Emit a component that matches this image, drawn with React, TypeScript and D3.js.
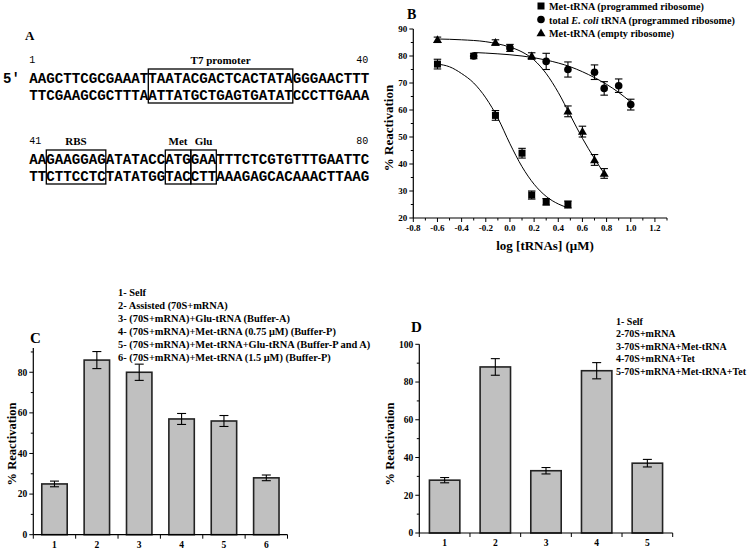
import React from "react";
import * as d3 from "d3";

// ---------- Panel A data ----------
const seqTop = [
  "AAGCTTCGCGAAATTAATACGACTCACTATAGGGAACTTT",
  "TTCGAAGCGCTTTAATTATGCTGAGTGATATCCCTTGAAA",
];
const seqBottom = [
  "AAGAAGGAGATATACCATGGAATTTCTCGTGTTTGAATTC",
  "TTCTTCCTCTATATGGTACCTTAAAGAGCACAAACTTAAG",
];
const boxesTop = [{ start: 14, end: 31, label: "T7 promoter" }];
const boxesBottom = [
  { start: 2, end: 9, label: "RBS" },
  { start: 16, end: 19, label: "Met" },
  { start: 19, end: 22, label: "Glu" },
];
const posLabelsTop = ["1", "40"];
const posLabelsBottom = ["41", "80"];

// ---------- Panel B data ----------
const metProgX = [-0.6, -0.12, 0.1, 0.18, 0.3, 0.48];
const metProgY = [77, 58, 44, 28.5, 26, 25];
const metProgE = [1.8, 1.8, 1.8, 1.5, 1.2, 1.3];
const totalX = [-0.3, 0.0, 0.3, 0.48, 0.7, 0.78, 0.9, 1.0];
const totalY = [80, 83, 78, 75, 74, 68, 69, 62];
const totalE = [1.0, 1.3, 3.0, 2.8, 2.7, 2.5, 2.5, 2.0];
const metEmptyX = [-0.6, -0.12, 0.18, 0.48, 0.6, 0.7, 0.78];
const metEmptyY = [86, 85, 80, 59.5, 52, 41.5, 36.5];
const metEmptyE = [1.0, 1.0, 1.2, 2.0, 2.0, 2.0, 1.8];
// fitted curves
const fitMetProgX = [-0.6, -0.5, -0.4, -0.3, -0.2, -0.1, 0, 0.1, 0.2, 0.3, 0.4, 0.48];
const fitMetProgY = [77, 76, 73.5, 70, 64.5, 57, 47.5, 39, 32.5, 28, 25.2, 23.8];
const fitTotalX = [-0.3, -0.1, 0.1, 0.3, 0.5, 0.7, 0.8, 0.9, 1.0];
const fitTotalY = [81.3, 80.8, 80, 78.5, 76, 72, 69.5, 66.5, 63];
const fitEmptyX = [-0.6, -0.4, -0.2, -0.1, 0, 0.1, 0.2, 0.3, 0.4, 0.5, 0.6, 0.7, 0.78];
const fitEmptyY = [86.3, 86, 85.3, 84.5, 83.3, 81.5, 78.5, 73.5, 66.5, 58, 49.5, 42, 36.5];
const xTicksB = [-0.8, -0.6, -0.4, -0.2, 0.0, 0.2, 0.4, 0.6, 0.8, 1.0, 1.2];
const yTicksB = [20, 30, 40, 50, 60, 70, 80, 90];
const legendB = [
  "Met-tRNA (programmed ribosome)",
  "total E. coli tRNA (programmed ribosome)",
  "Met-tRNA (empty ribosome)",
];

// ---------- Panel C data ----------
const catsC = [1, 2, 3, 4, 5, 6];
const valsC = [25, 86, 80, 57, 56, 28];
const errsC = [1.4, 4.2, 4.0, 2.7, 2.7, 1.4];
const yTicksC = [0, 20, 40, 60, 80];
const legendC = [
  "1- Self",
  "2- Assisted (70S+mRNA)",
  "3- (70S+mRNA)+Glu-tRNA (Buffer-A)",
  "4- (70S+mRNA)+Met-tRNA (0.75 μM) (Buffer-P)",
  "5- (70S+mRNA)+Met-tRNA+Glu-tRNA (Buffer-P and A)",
  "6- (70S+mRNA)+Met-tRNA (1.5 μM) (Buffer-P)",
];

// ---------- Panel D data ----------
const catsD = [1, 2, 3, 4, 5];
const valsD = [28, 88, 33, 86, 37];
const errsD = [1.4, 4.4, 1.7, 4.3, 2.0];
const yTicksD = [0, 20, 40, 60, 80, 100];
const legendD = [
  "1- Self",
  "2-70S+mRNA",
  "3-70S+mRNA+Met-tRNA",
  "4-70S+mRNA+Tet",
  "5-70S+mRNA+Met-tRNA+Tet",
];

const SERIF = "'Liberation Serif', 'Times New Roman', serif";
const MONO = "'Liberation Mono', 'Courier New', monospace";

function SeqBlock({ lines, boxes, posLabels, baseY }: any) {
  const cx = d3.scaleLinear().domain([0, 40]).range([29.3, 369.3]);
  const lineGap = 17;
  const boxTop = baseY - 14;
  const boxBot = baseY + lineGap + 3;
  return (
    <g>
      {lines.map((s: string, i: number) => (
        <text key={i} x={cx(0)} y={baseY + i * lineGap} fontFamily={MONO} fontWeight="bold"
          fontSize={14.2} textLength={cx(40) - cx(0)} lengthAdjust="spacing">{s}</text>
      ))}
      {boxes.map((b: any, i: number) => (
        <g key={i}>
          <rect x={cx(b.start)} y={boxTop} width={cx(b.end) - cx(b.start)} height={boxBot - boxTop}
            fill="none" stroke="#000" strokeWidth={1.3} />
          <text x={(cx(b.start) + cx(b.end)) / 2} y={baseY - 19} textAnchor="middle" fontFamily={SERIF}
            fontWeight="bold" fontSize={11}>{b.label}</text>
        </g>
      ))}
      <text x={cx(0)} y={baseY - 20} fontFamily={MONO} fontSize={10}>{posLabels[0]}</text>
      <text x={cx(40) - 1} y={baseY - 20} textAnchor="end" fontFamily={MONO} fontSize={10}>{posLabels[1]}</text>
    </g>
  );
}

function YAxis({ scale, x, ticks, minor, fs = 9.5 }: any) {
  const [d0, d1] = scale.domain();
  return (
    <g>
      <line x1={x} x2={x} y1={scale(d0)} y2={scale(d1)} stroke="#000" strokeWidth={1.2} />
      {ticks.map((t: number) => (
        <g key={"m" + t}>
          <line x1={x - 4} x2={x} y1={scale(t)} y2={scale(t)} stroke="#000" strokeWidth={1} />
          <text x={x - 6} y={scale(t) + 3.3} textAnchor="end" fontFamily={SERIF} fontWeight="bold" fontSize={fs}>{t}</text>
        </g>
      ))}
      {minor.map((t: number) => (
        <line key={"n" + t} x1={x - 2.5} x2={x} y1={scale(t)} y2={scale(t)} stroke="#000" strokeWidth={1} />
      ))}
    </g>
  );
}

function XAxisLine({ scale, y, majors, minors }: any) {
  const [d0, d1] = scale.domain();
  return (
    <g>
      <line x1={scale(d0)} x2={scale(d1)} y1={y} y2={y} stroke="#000" strokeWidth={1.2} />
      {majors.map((t: number, i: number) => (
        <line key={"a" + i} x1={scale(t)} x2={scale(t)} y1={y} y2={y + 4} stroke="#000" strokeWidth={1} />
      ))}
      {minors.map((t: number, i: number) => (
        <line key={"b" + i} x1={scale(t)} x2={scale(t)} y1={y} y2={y + 2.5} stroke="#000" strokeWidth={1} />
      ))}
    </g>
  );
}

function ErrBar({ x, y1, y2, w }: any) {
  return (
    <g stroke="#000" strokeWidth={1.1}>
      <line x1={x} x2={x} y1={y1} y2={y2} />
      <line x1={x - w / 2} x2={x + w / 2} y1={y1} y2={y1} />
      <line x1={x - w / 2} x2={x + w / 2} y1={y2} y2={y2} />
    </g>
  );
}

function Marker({ type, x, y }: any) {
  if (type === "square") return <rect x={x - 3.5} y={y - 3.5} width={7} height={7} fill="#000" />;
  if (type === "circle") return <circle cx={x} cy={y} r={3.8} fill="#000" />;
  return <path d={`M${x},${y - 4.5}L${x + 4.5},${y + 3.2}L${x - 4.5},${y + 3.2}Z`} fill="#000" />;
}

function PanelB() {
  const x = d3.scaleLinear().domain([-0.8, 1.3]).range([413.3, 667]);
  const y = d3.scaleLinear().domain([20, 90]).range([218, 29]);
  const line = d3.line<number[]>().x((d) => x(d[0])).y((d) => y(d[1])).curve(d3.curveMonotoneX);
  const fits = [
    [fitMetProgX, fitMetProgY],
    [fitTotalX, fitTotalY],
    [fitEmptyX, fitEmptyY],
  ];
  const series = [
    { type: "square", xs: metProgX, ys: metProgY, es: metProgE },
    { type: "circle", xs: totalX, ys: totalY, es: totalE },
    { type: "triangle", xs: metEmptyX, ys: metEmptyY, es: metEmptyE },
  ];
  const minorX = d3.range(-0.7, 1.31, 0.2).map((v) => Math.round(v * 10) / 10);
  const minorY = [25, 35, 45, 55, 65, 75, 85];
  return (
    <g>
      <text x={407} y={19} fontFamily={SERIF} fontWeight="bold" fontSize={14}>B</text>
      {fits.map((f, i) => (
        <path key={i} d={line(f[0].map((v, j) => [v, f[1][j]])) || ""} fill="none" stroke="#000" strokeWidth={1} />
      ))}
      {series.map((s, i) => (
        <g key={i}>
          {s.xs.map((v, j) => (
            <g key={j}>
              <ErrBar x={x(v)} y1={y(s.ys[j] + s.es[j])} y2={y(s.ys[j] - s.es[j])} w={7.5} />
              <Marker type={s.type} x={x(v)} y={y(s.ys[j])} />
            </g>
          ))}
        </g>
      ))}
      <YAxis scale={y} x={x(-0.8)} ticks={yTicksB} minor={minorY} fs={9} />
      <XAxisLine scale={x} y={y(20)} majors={xTicksB} minors={minorX} />
      {xTicksB.map((t) => (
        <text key={t} x={x(t)} y={y(20) + 13} textAnchor="middle" fontFamily={SERIF} fontWeight="bold" fontSize={9}>
          {t.toFixed(1)}
        </text>
      ))}
      <text x={545} y={250} textAnchor="middle" fontFamily={SERIF} fontWeight="bold" fontSize={13}>log [tRNAs] (μM)</text>
      <text transform="translate(393,128) rotate(-90)" textAnchor="middle" fontFamily={SERIF} fontWeight="bold" fontSize={13}>
        % Reactivation
      </text>
      {legendB.map((t, i) => (
        <g key={i}>
          <Marker type={series[i].type} x={541} y={6 + i * 13.5} />
          <text x={549} y={10 + i * 13.5} fontFamily={SERIF} fontWeight="bold" fontSize={10.2}>
            {i === 1 ? (
              <>
                total <tspan fontStyle="italic">E. coli</tspan> tRNA (programmed ribosome)
              </>
            ) : t}
          </text>
        </g>
      ))}
    </g>
  );
}

function BarPanel({ cats, vals, errs, xr, yDomain, yr, yTicks, minorY, letter, letterPos, legend, legendX, legendY, legendGap, legendFs, titleX, capW }: any) {
  const x = d3.scaleLinear().domain([0.5, cats.length + 0.5]).range(xr);
  const y = d3.scaleLinear().domain(yDomain).range(yr);
  const bw = (x(1.6) - x(1)) ;
  const halves = d3.range(0, cats.length + 1).map((i) => i + 0.5);
  return (
    <g>
      {cats.map((c: number, i: number) => (
        <g key={c}>
          <rect x={x(c) - bw / 2} y={y(vals[i])} width={bw} height={y(0) - y(vals[i])} fill="#c0c0c0" stroke="#222" strokeWidth={1.6} />
          <ErrBar x={x(c)} y1={y(vals[i] + errs[i])} y2={y(vals[i] - errs[i])} w={capW} />
          <text x={x(c)} y={y(0) + 13} textAnchor="middle" fontFamily={SERIF} fontWeight="bold" fontSize={9.5}>{c}</text>
        </g>
      ))}
      <YAxis scale={y} x={xr[0]} ticks={yTicks} minor={minorY} />
      <XAxisLine scale={x} y={y(0)} majors={halves} minors={[]} />
      <text x={letterPos[0]} y={letterPos[1]} fontFamily={SERIF} fontWeight="bold" fontSize={15}>{letter}</text>
      <text transform={`translate(${titleX},444) rotate(-90)`} textAnchor="middle" fontFamily={SERIF} fontWeight="bold" fontSize={12.5}>
        % Reactivation
      </text>
      {legend.map((t: string, i: number) => (
        <text key={i} x={legendX} y={legendY + i * legendGap} fontFamily={SERIF} fontWeight="bold" fontSize={legendFs}>{t}</text>
      ))}
    </g>
  );
}

export default function App() {
  return (
    <svg width={748} height={551} style={{ position: "absolute", left: 0, top: 0, background: "#fff" }}>
      <rect width={748} height={551} fill="#fff" />
      {/* Panel A */}
      <text x={25} y={40} fontFamily={SERIF} fontWeight="bold" fontSize={13}>A</text>
      <text x={3} y={83} fontFamily={MONO} fontWeight="bold" fontSize={14}>5'</text>
      <SeqBlock lines={seqTop} boxes={boxesTop} posLabels={posLabelsTop} baseY={83} />
      <SeqBlock lines={seqBottom} boxes={boxesBottom} posLabels={posLabelsBottom} baseY={164} />
      <PanelB />
      <BarPanel cats={catsC} vals={valsC} errs={errsC} xr={[33.3, 287.5]} yDomain={[0, 92]} yr={[534.7, 347.9]}
        yTicks={yTicksC} minorY={[10, 30, 50, 70, 90]} letter="C" letterPos={[30, 343]} legend={legendC}
        legendX={118} legendY={295.5} legendGap={13.1} legendFs={10.4} titleX={16} capW={9} />
      <BarPanel cats={catsD} vals={valsD} errs={errsD} xr={[419.3, 672.7]} yDomain={[0, 100]} yr={[533, 344.3]}
        yTicks={yTicksD} minorY={[10, 30, 50, 70, 90]} letter="D" letterPos={[411, 332]} legend={legendD}
        legendX={616} legendY={325} legendGap={12.4} legendFs={10} titleX={394} capW={9} />
    </svg>
  );
}
